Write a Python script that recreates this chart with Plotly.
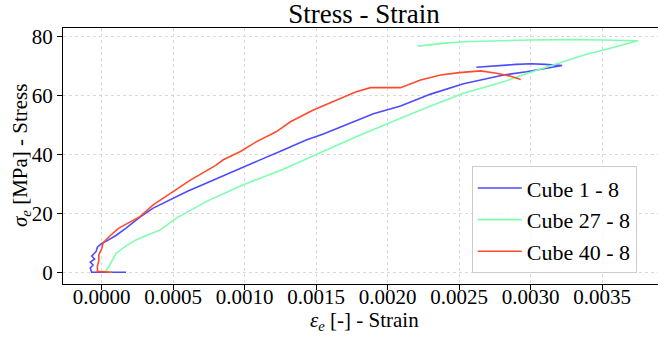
import plotly.graph_objects as go

# Cube 1 - 8
strain_c1 = [0.00017, -0.00007, -0.00008, -0.00006, -0.00008, -0.00005, -0.00007, -0.00004,
             -0.00003, 0.0, 0.00003, 0.0001, 0.00017, 0.00022, 0.00027, 0.00036, 0.0005,
             0.0006, 0.00073, 0.00085, 0.00097, 0.0011, 0.00127, 0.00143, 0.00155, 0.00167,
             0.0018, 0.0019, 0.00209, 0.0023, 0.00253, 0.00265, 0.00281, 0.00297, 0.0031,
             0.00322, 0.0031, 0.003, 0.0029, 0.0028, 0.0027, 0.00262]
stress_c1 = [0.0, 0.0, 1.5, 2.5, 3.5, 4.5, 5.5, 7.0, 8.5, 9.8, 10.5, 12.5, 15.0, 17.0, 18.8,
             21.8, 25.1, 27.5, 30.2, 32.8, 35.3, 38.0, 41.5, 44.9, 47.0, 49.4, 51.8, 53.8,
             56.5, 60.5, 64.0, 65.3, 67.0, 68.1, 69.2, 70.2, 70.6, 70.8, 70.6, 70.2, 69.7,
             69.6]

# Cube 27 - 8
strain_c27 = [0.00007, 0.00003, 0.00005, 0.0001, 0.00017, 0.00024, 0.00033, 0.00041, 0.00052,
              0.00073, 0.00097, 0.00127, 0.0015, 0.00178, 0.00209, 0.0023, 0.00253,
              0.00281, 0.003, 0.00323, 0.0034, 0.00351, 0.00363, 0.00375, 0.0035, 0.0033,
              0.003, 0.0028, 0.00253, 0.0024, 0.00221]
stress_c27 = [0.0, 0.5, 1.9, 6.4, 9.0, 11.0, 12.8, 14.4, 18.3, 24.0, 29.3, 35.0, 40.0,
              46.0, 52.3, 56.5, 60.8, 64.7, 67.9, 71.5, 74.2, 75.5, 77.0, 78.6, 78.9, 79.0,
              78.9, 78.6, 78.3, 77.8, 76.8]

# Cube 40 - 8
strain_c40 = [0.00007, -0.00003, -0.00003, -0.00002, -0.00002, 0.0, 0.00001, 0.00006, 0.00012,
              0.0002, 0.00027, 0.00036, 0.0005, 0.00062, 0.0008, 0.00085, 0.00097, 0.00108,
              0.00122, 0.00132, 0.00148, 0.00162, 0.00178, 0.00188, 0.00209, 0.00223, 0.00237,
              0.0025, 0.00265, 0.00276, 0.00285, 0.00293]
stress_c40 = [0.0, 0.3, 2.0, 4.0, 6.0, 8.0, 10.0, 12.5, 15.0, 17.0, 19.0, 22.9, 27.4, 31.3,
              36.4, 38.2, 41.0, 44.3, 47.7, 51.1, 55.1, 57.9, 61.3, 62.7, 62.7, 65.3, 67.0,
              67.8, 68.4, 67.6, 66.7, 65.5]

series = [
    ("Cube 1 - 8", strain_c1, stress_c1, "#4b4bff"),
    ("Cube 27 - 8", strain_c27, stress_c27, "#7dffb0"),
    ("Cube 40 - 8", strain_c40, stress_c40, "#ff4b2b"),
]

x_ticks = [0.0, 0.0005, 0.001, 0.0015, 0.002, 0.0025, 0.003, 0.0035]
x_tick_labels = ["0.0000", "0.0005", "0.0010", "0.0015", "0.0020", "0.0025", "0.0030", "0.0035"]
y_ticks = [0, 20, 40, 60, 80]

FONT = "Liberation Serif, Times New Roman, serif"

fig = go.Figure()
for name, xs, ys, col in series:
    fig.add_trace(go.Scatter(x=xs, y=ys, mode="lines", name=name,
                             line=dict(color=col, width=1.6)))

fig.update_layout(
    width=658, height=339,
    margin=dict(l=63, r=0, t=28, b=55),
    paper_bgcolor="white", plot_bgcolor="white",
    font=dict(family=FONT, size=20, color="black"),
    title=dict(text="Stress - Strain", x=364 / 658, xanchor="center",
               y=1 - 14 / 339, yanchor="middle", font=dict(size=27, family=FONT)),
    showlegend=True,
    legend=dict(x=0.687, y=0.042, xanchor="left", yanchor="bottom",
                bgcolor="rgba(255,255,255,0.8)", bordercolor="#cccccc", borderwidth=1,
                font=dict(size=22, family=FONT), tracegroupgap=0, itemwidth=44),
)

fig.update_xaxes(
    range=[-0.0002706, 0.003890],
    tickvals=x_ticks, ticktext=x_tick_labels,
    tickfont=dict(family=FONT, size=21),
    ticklabelstandoff=-11,
    showline=True, linecolor="black", linewidth=1.2, mirror=True,
    ticks="outside", ticklen=5, tickcolor="black", tickwidth=1,
    showgrid=True, gridcolor="#d9d9d9", gridwidth=0.8, griddash="dot",
    zeroline=False,
    automargin=False,
)
fig.update_yaxes(
    range=[-3.97, 82.95],
    tickvals=y_ticks,
    tickfont=dict(family=FONT, size=21),
    showline=True, linecolor="black", linewidth=1.2,
    ticks="outside", ticklen=5, tickcolor="black", tickwidth=1,
    showgrid=True, gridcolor="#d9d9d9", gridwidth=0.8, griddash="dot",
    zeroline=False,
    automargin=False,
)

fig.add_annotation(text="<i>ε</i><sub><i>e</i></sub> [-] - Strain",
                   xref="paper", yref="paper", x=(364 - 63) / 595, y=-(321 - 284) / 256,
                   xanchor="center", yanchor="middle", showarrow=False,
                   font=dict(size=21, family=FONT))
fig.add_annotation(text="<i>σ</i><sub><i>e</i></sub> [MPa] - Stress",
                   xref="paper", yref="paper", x=-(63 - 21) / 595, y=0.5,
                   xanchor="center", yanchor="middle", showarrow=False, textangle=-90,
                   font=dict(size=21, family=FONT))

fig.write_html("out.html")
